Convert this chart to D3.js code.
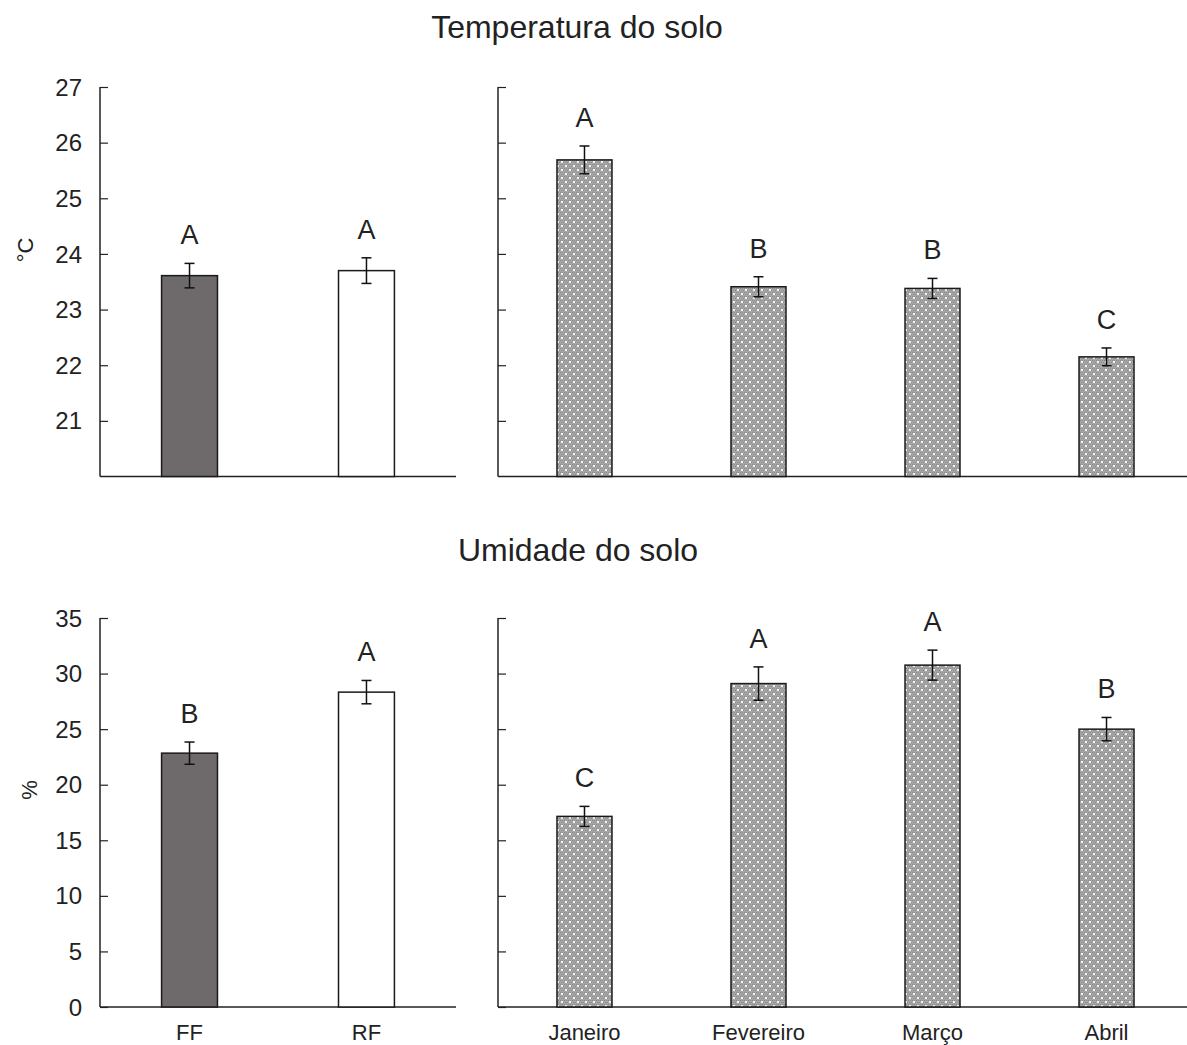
<!DOCTYPE html>
<html><head><meta charset="utf-8">
<script src="https://cdn.jsdelivr.net/npm/d3@7"></script>
<style>body{margin:0;background:#fff;} text{font-family:Arial,"Liberation Sans",sans-serif;fill:#222;}</style>
</head><body>
<svg id="c" width="1187" height="1045"></svg>
<script>
// Data
const groups = ["FF", "RF"];
const months = ["Janeiro", "Fevereiro", "Março", "Abril"];
const tempGroup = [23.61, 23.70];
const tempGroupErr = [0.22, 0.23];
const tempGroupLetters = ["A", "A"];
const tempMonth = [25.69, 23.41, 23.38, 22.15];
const tempMonthErr = [0.25, 0.18, 0.18, 0.16];
const tempMonthLetters = ["A", "B", "B", "C"];
const humGroup = [22.84, 28.33];
const humGroupErr = [1.0, 1.05];
const humGroupLetters = ["B", "A"];
const humMonth = [17.15, 29.1, 30.76, 25.0];
const humMonthErr = [0.9, 1.5, 1.35, 1.05];
const humMonthLetters = ["C", "A", "A", "B"];
const tempTicks = [21, 22, 23, 24, 25, 26, 27];
const humTicks = [0, 5, 10, 15, 20, 25, 30, 35];

const svg = d3.select("#c");
const defs = svg.append("defs");
const pat = defs.append("pattern").attr("id","dots").attr("patternUnits","userSpaceOnUse")
  .attr("width",8).attr("height",8);
pat.append("rect").attr("width",8).attr("height",8).attr("fill","#a6a6a6");
for (let i=0;i<8;i+=2) for (let j=0;j<8;j+=2) pat.append("rect").attr("x",i+((j/2)%2)).attr("y",j).attr("width",1).attr("height",1).attr("fill","#8c8c8c");
pat.append("rect").attr("x",1).attr("y",1).attr("width",2).attr("height",2).attr("fill","#f2f2f2");
pat.append("rect").attr("x",5).attr("y",5).attr("width",2).attr("height",2).attr("fill","#f2f2f2");

function panel(cfg){
  const g = svg.append("g");
  const y = d3.scaleLinear().domain(cfg.domain).range([cfg.bottom, cfg.top]);
  const x = d3.scaleBand().domain(cfg.cats).range([cfg.x0, cfg.x1]).paddingInner(cfg.padIn).paddingOuter(cfg.padOut);
  const yAxis = d3.axisRight(y).tickValues(cfg.ticks).tickSize(8).tickFormat("");
  const ya = g.append("g").attr("transform",`translate(${cfg.x0},0)`).call(yAxis);
  ya.select(".domain").remove();
  ya.selectAll("line").attr("stroke","#222").attr("stroke-width",1.2);
  g.append("line").attr("x1",cfg.x0).attr("x2",cfg.x0).attr("y1",cfg.top).attr("y2",cfg.bottom).attr("stroke","#222").attr("stroke-width",1.5);
  if (cfg.labels){
    g.selectAll("text.tl").data(cfg.ticks).join("text").attr("class","tl")
      .attr("x",cfg.x0-18).attr("y",d=>y(d)).attr("dy","0.36em").attr("text-anchor","end")
      .attr("font-size",24).text(d=>d);
  }
  g.append("line").attr("x1",cfg.x0).attr("x2",cfg.axisEnd).attr("y1",cfg.bottom).attr("y2",cfg.bottom).attr("stroke","#222").attr("stroke-width",1.5);
  const bars = cfg.cats.map((c,i)=>({c, v:cfg.vals[i], e:cfg.errs[i], l:cfg.letters[i], f:cfg.fills[i]}));
  g.selectAll("rect.bar").data(bars).join("rect").attr("class","bar")
    .attr("x",d=>x(d.c)).attr("width",x.bandwidth()).attr("y",d=>y(d.v)).attr("height",d=>cfg.bottom-y(d.v))
    .attr("fill",d=>d.f).attr("stroke","#1a1a1a").attr("stroke-width",1.5);
  const eb = g.selectAll("g.eb").data(bars).join("g").attr("class","eb")
    .attr("transform",d=>`translate(${x(d.c)+x.bandwidth()/2},0)`);
  eb.append("line").attr("y1",d=>y(d.v+d.e)).attr("y2",d=>y(d.v-d.e)).attr("stroke","#111").attr("stroke-width",1.5);
  eb.append("line").attr("x1",-5).attr("x2",5).attr("y1",d=>y(d.v+d.e)).attr("y2",d=>y(d.v+d.e)).attr("stroke","#111").attr("stroke-width",1.5);
  eb.append("line").attr("x1",-5).attr("x2",5).attr("y1",d=>y(d.v-d.e)).attr("y2",d=>y(d.v-d.e)).attr("stroke","#111").attr("stroke-width",1.5);
  eb.append("text").attr("y",d=>y(d.v+d.e)-19).attr("text-anchor","middle").attr("font-size",27).text(d=>d.l);
  if (cfg.xlabels){
    g.selectAll("text.xl").data(cfg.cats).join("text").attr("class","xl")
      .attr("x",d=>x(d)+x.bandwidth()/2).attr("y",cfg.bottom+33).attr("text-anchor","middle").attr("font-size",22).text(d=>d);
  }
}

const tTop=87, tBot=476.5, hTop=618, hBot=1007;
panel({domain:[20,27], top:tTop, bottom:tBot, x0:100, x1:456, axisEnd:456, cats:groups, vals:tempGroup, errs:tempGroupErr,
  letters:tempGroupLetters, fills:["#6e6a6b","#ffffff"], ticks:tempTicks, labels:true, padIn:0.684, padOut:0.348, xlabels:false});
panel({domain:[20,27], top:tTop, bottom:tBot, x0:498, x1:1193, axisEnd:1187, cats:months, vals:tempMonth, errs:tempMonthErr,
  letters:tempMonthLetters, fills:months.map(()=>"url(#dots)"), ticks:tempTicks, labels:false, padIn:0.684, padOut:0.339, xlabels:false});
panel({domain:[0,35], top:hTop, bottom:hBot, x0:100, x1:456, axisEnd:456, cats:groups, vals:humGroup, errs:humGroupErr,
  letters:humGroupLetters, fills:["#6e6a6b","#ffffff"], ticks:humTicks, labels:true, padIn:0.684, padOut:0.348, xlabels:true});
panel({domain:[0,35], top:hTop, bottom:hBot, x0:498, x1:1193, axisEnd:1187, cats:months, vals:humMonth, errs:humMonthErr,
  letters:humMonthLetters, fills:months.map(()=>"url(#dots)"), ticks:humTicks, labels:false, padIn:0.684, padOut:0.339, xlabels:true});

svg.append("text").attr("x",577).attr("y",38).attr("text-anchor","middle").attr("font-size",32).text("Temperatura do solo");
svg.append("text").attr("x",578).attr("y",561).attr("text-anchor","middle").attr("font-size",32).text("Umidade do solo");
svg.append("text").attr("transform","translate(33,250) rotate(-90)").attr("text-anchor","middle").attr("font-size",22).text("°C");
svg.append("text").attr("transform","translate(37,790) rotate(-90)").attr("text-anchor","middle").attr("font-size",22).text("%");
</script>
</body></html>
